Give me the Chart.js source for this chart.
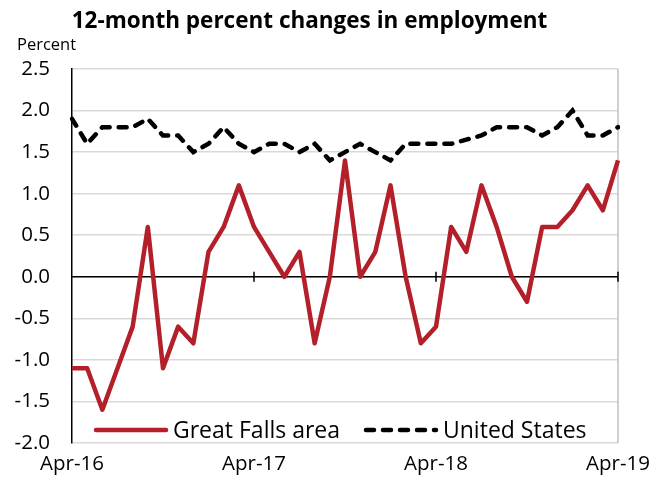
<!DOCTYPE html>
<html>
<head>
<meta charset="utf-8">
<script src="https://cdn.jsdelivr.net/npm/chart.js@4.4.0/dist/chart.umd.min.js"></script>
<style>
body { margin: 0; background: #fff; }
#wrap { position: relative; width: 653px; height: 479px; }
#title { position: absolute; left: 0; width: 619px; top: 4px; text-align: center; font: bold 22.5px "Open Sans"; color: #000; }
#unit { position: absolute; left: 17px; top: 32px; font: 16.5px "Open Sans"; color: #000; }
</style>
</head>
<body>
<div id="wrap">
<canvas id="chart" width="653" height="479"></canvas>
<div id="title">12-month percent changes in employment</div>
<div id="unit">Percent</div>
</div>
<script>
const months = ['Apr-16', 'May-16', 'Jun-16', 'Jul-16', 'Aug-16', 'Sep-16', 'Oct-16', 'Nov-16', 'Dec-16',
    'Jan-17', 'Feb-17', 'Mar-17', 'Apr-17', 'May-17', 'Jun-17', 'Jul-17', 'Aug-17', 'Sep-17', 'Oct-17',
    'Nov-17', 'Dec-17', 'Jan-18', 'Feb-18', 'Mar-18', 'Apr-18', 'May-18', 'Jun-18', 'Jul-18', 'Aug-18',
    'Sep-18', 'Oct-18', 'Nov-18', 'Dec-18', 'Jan-19', 'Feb-19', 'Mar-19', 'Apr-19'];
const tickLabels = ['Apr-16', 'Apr-17', 'Apr-18', 'Apr-19'];
const greatFalls = [-1.1, -1.1, -1.6, -1.1, -0.6, 0.6, -1.1, -0.6, -0.8, 0.3, 0.6, 1.1, 0.6, 0.3, 0.0, 0.3,
    -0.8, 0.0, 1.4, 0.0, 0.3, 1.1, 0.0, -0.8, -0.6, 0.6, 0.3, 1.1, 0.6, 0.0, -0.3, 0.6, 0.6, 0.8, 1.1, 0.8, 1.4];
const unitedStates = [1.9, 1.6, 1.8, 1.8, 1.8, 1.9, 1.7, 1.7, 1.5, 1.6, 1.8, 1.6, 1.5, 1.6, 1.6, 1.5,
    1.6, 1.4, 1.5, 1.6, 1.5, 1.4, 1.6, 1.6, 1.6, 1.6, 1.65, 1.7, 1.8, 1.8, 1.8, 1.7, 1.8, 2.0, 1.7, 1.7, 1.8];

const font = '"Open Sans"';

// zero axis line with month ticks, plot border and legend inside the plot
const axisPlugin = {
    id: 'axisPlugin',
    beforeDatasetsDraw(chart) {
        const { ctx, chartArea, scales } = chart;
        const y0 = scales.y.getPixelForValue(0);
        ctx.save();
        ctx.strokeStyle = '#bfbfbf';
        ctx.lineWidth = 1.5;
        ctx.beginPath();
        ctx.moveTo(chartArea.right, chartArea.top);
        ctx.lineTo(chartArea.right, chartArea.bottom);
        ctx.stroke();
        ctx.strokeStyle = '#000';
        ctx.lineWidth = 1.5;
        ctx.beginPath();
        ctx.moveTo(chartArea.left, y0);
        ctx.lineTo(chartArea.right, y0);
        months.forEach((m, i) => {
            if (tickLabels.includes(m) && i > 0) {
                const x = scales.x.getPixelForValue(i);
                ctx.moveTo(x, y0 - 5);
                ctx.lineTo(x, y0 + 5);
            }
        });
        ctx.stroke();
        ctx.restore();
    },
    afterDraw(chart) {
        const { ctx, chartArea } = chart;
        const y = chartArea.bottom - 13;
        ctx.save();
        ctx.font = '23px ' + font;
        ctx.textBaseline = 'middle';
        ctx.fillStyle = '#000';
        const items = [
            { ds: chart.data.datasets[0], x: chartArea.left + 24 },
            { ds: chart.data.datasets[1], x: chartArea.left + 294 }
        ];
        items.forEach(it => {
            ctx.strokeStyle = it.ds.borderColor;
            ctx.lineWidth = it.ds.borderWidth;
            ctx.lineCap = 'round';
            ctx.setLineDash(it.ds.borderDash || []);
            ctx.beginPath();
            ctx.moveTo(it.x, y);
            ctx.lineTo(it.x + 70, y);
            ctx.stroke();
            ctx.setLineDash([]);
            ctx.fillText(it.ds.label, it.x + 77, y + 1);
        });
        ctx.restore();
    }
};

new Chart(document.getElementById('chart'), {
    type: 'line',
    data: {
        labels: months,
        datasets: [{
            label: 'Great Falls area',
            data: greatFalls,
            borderColor: '#b3202a',
            borderWidth: 4.5,
            pointRadius: 0,
            tension: 0,
            borderJoinStyle: 'round'
        }, {
            label: 'United States',
            data: unitedStates,
            borderColor: '#000',
            borderWidth: 4.5,
            borderDash: [8, 9],
            borderCapStyle: 'round',
            pointRadius: 0,
            tension: 0
        }]
    },
    options: {
        responsive: false,
        animation: false,
        layout: { padding: { top: 69, right: 35, left: 0, bottom: 0 } },
        plugins: {
            legend: { display: false },
            tooltip: { enabled: false }
        },
        scales: {
            x: {
                offset: false,
                grid: { display: false, drawTicks: false },
                border: { display: false },
                afterFit(scale) {
                    scale.height = 36;
                    scale.paddingLeft = 0;
                    scale.paddingRight = 0;
                },
                ticks: {
                    autoSkip: false,
                    maxRotation: 0,
                    padding: 9,
                    color: '#000',
                    font: { family: font, size: 20.5 },
                    callback(v) {
                        const m = months[v];
                        return tickLabels.includes(m) ? m : null;
                    }
                }
            },
            y: {
                min: -2,
                max: 2.5,
                afterFit(scale) {
                    scale.width = 72;
                    scale.paddingTop = 0;
                    scale.paddingBottom = 0;
                },
                grid: { color: '#d9d9d9', lineWidth: 1.5, drawTicks: false },
                border: { color: '#000', width: 1.5 },
                ticks: {
                    stepSize: 0.5,
                    padding: 22,
                    color: '#000',
                    font: { family: font, size: 20.5 },
                    callback(v) { return v.toFixed(1); }
                }
            }
        }
    },
    plugins: [axisPlugin]
});
</script>
</body>
</html>
